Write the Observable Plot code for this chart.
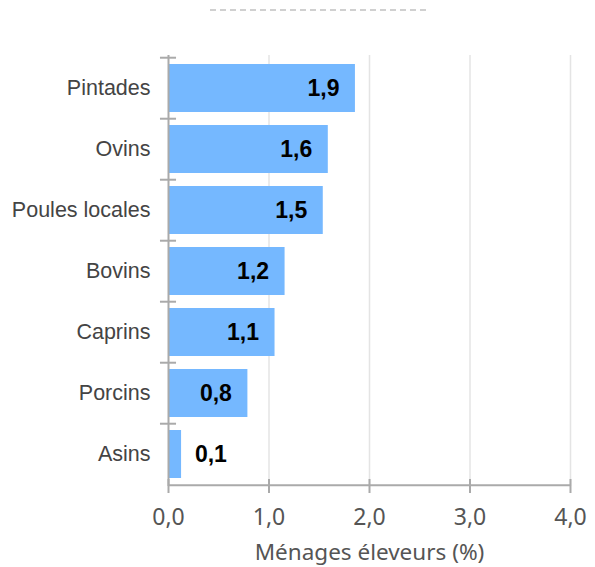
<!DOCTYPE html>
<html>
<head>
<meta charset="utf-8">
<script src="https://cdn.jsdelivr.net/npm/d3@7"></script>
<script src="https://cdn.jsdelivr.net/npm/@observablehq/plot@0.6"></script>
<style>
  html, body { margin: 0; padding: 0; background: #fff; }
  #wrap { position: relative; width: 595px; height: 567px; }
  #title { position: absolute; left: 210px; top: 9px; width: 216px; border-top: 2px dashed #d0d0d0; }
</style>
</head>
<body>
<div id="wrap"><div id="title"></div><div id="chart"></div></div>
<script>
const categories = ["Pintades", "Ovins", "Poules locales", "Bovins", "Caprins", "Porcins", "Asins"];
const values = [1.86, 1.59, 1.54, 1.16, 1.06, 0.79, 0.13];
const labels = ["1,9", "1,6", "1,5", "1,2", "1,1", "0,8", "0,1"];
const xTicks = [0, 1, 2, 3, 4];
const xTickLabels = ["0,0", "1,0", "2,0", "3,0", "4,0"];
const xLabel = "Ménages éleveurs (%)";

const data = categories.map((c, i) => ({cat: c, v: values[i], label: labels[i]}));

const W = 595, H = 567, mT = 55, mB = 81, mL = 168, mR = 25;
const step = (H - mT - mB) / categories.length;
const half = step / 2;

const chart = Plot.plot({
  width: W,
  height: H,
  marginTop: mT,
  marginBottom: mB,
  marginLeft: mL,
  marginRight: mR,
  style: {background: "transparent", overflow: "visible"},
  x: {domain: [0, 4]},
  y: {domain: categories, paddingInner: 0.22, paddingOuter: 0.11},
  marks: [
    Plot.gridX(xTicks.filter(d => d > 0), {stroke: "#e4e4e4", strokeOpacity: 1, strokeWidth: 1.5}),
    Plot.barX(data, {x: "v", y: "cat", fill: "#75b8ff"}),
    Plot.text(data, {
      x: d => Math.max(d.v, 0.74), y: "cat", text: "label", dx: -32,
      textAnchor: "middle", fontSize: 23, fontWeight: "bold", fill: "#000",
      fontFamily: "Liberation Sans, Arial, sans-serif"
    }),
    Plot.ruleX([0], {stroke: "#aaa", strokeWidth: 2}),
    Plot.ruleY(categories, {y: d => d, dy: -half, x1: -0.08, x2: 0.08, stroke: "#aaa", strokeWidth: 2}),
    Plot.ruleY([categories[categories.length - 1]], {y: d => d, dy: half, x1: 0, x2: 4, stroke: "#aaa", strokeWidth: 2}),
    Plot.axisY({
      tickSize: 0, tickPadding: 18, fontSize: 21.5, label: null,
      fill: "#444", fontFamily: "Liberation Sans, Arial, sans-serif"
    }),
    Plot.axisX({
      ticks: xTicks, tickSize: 7, tickPadding: 15, stroke: "#aaa", strokeWidth: 2,
      tickFormat: d => xTickLabels[xTicks.indexOf(d)],
      fontSize: 23, fill: "#555", fontFamily: "Noto Sans, sans-serif",
      label: null
    }),
    Plot.axisX({
      ticks: xTicks, tickSize: 7, dy: -7, stroke: "#aaa", strokeWidth: 2,
      tickFormat: () => "", label: null
    }),
    Plot.text([xLabel], {
      frameAnchor: "bottom", dy: 73, text: d => d, fontSize: 22.5,
      fill: "#555", fontFamily: "Noto Sans, sans-serif", textAnchor: "middle"
    })
  ]
});
chart.style.fontFamily = "Noto Sans, sans-serif";
document.getElementById("chart").appendChild(chart);
</script>
</body>
</html>
